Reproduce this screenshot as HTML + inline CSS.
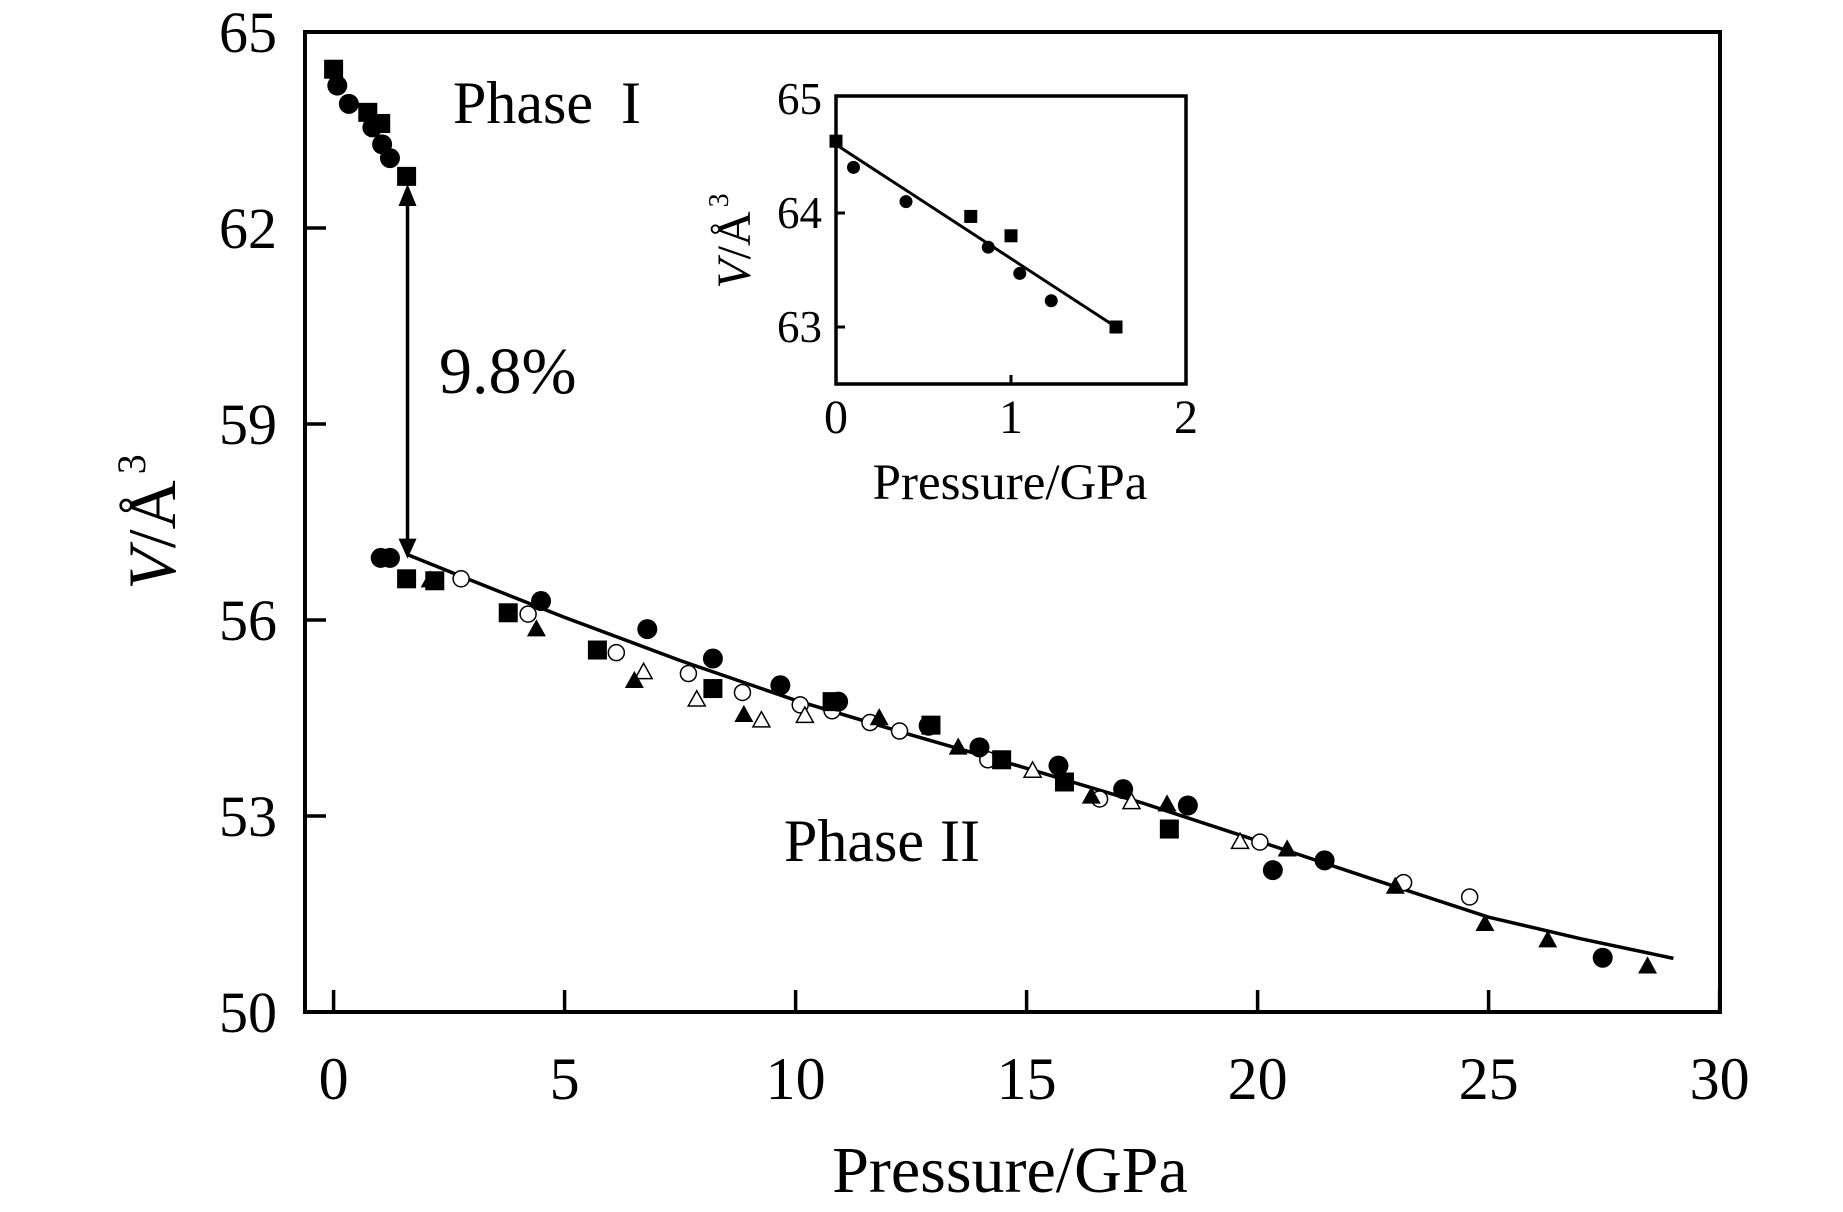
<!DOCTYPE html>
<html><head><meta charset="utf-8"><style>
html,body{margin:0;padding:0;background:#fff;}
svg{display:block;font-family:"Liberation Serif","Noto Serif CJK SC",serif;}
</style></head><body>
<svg id="chart" width="1843" height="1212" viewBox="0 0 1843 1212" xmlns="http://www.w3.org/2000/svg"></svg>
<script>
// ---- main chart data ----
const xTicks = [0, 5, 10, 15, 20, 25, 30];
const yTicks = [50, 53, 56, 59, 62, 65];
const phase1SquareP = [0, 0.74, 1.02, 1.58];
const phase1SquareV = [64.43, 63.77, 63.6, 62.79];
const phase1CircleP = [0.08, 0.33, 0.84, 1.05, 1.22];
const phase1CircleV = [64.18, 63.9, 63.54, 63.28, 63.07];
const fCircleP = [1.02, 1.22, 4.49, 6.79, 8.21, 9.67, 10.92, 12.88, 13.98, 15.69, 17.09, 18.49, 20.33, 21.45, 27.47];
const fCircleV = [56.95, 56.95, 56.29, 55.86, 55.41, 55.0, 54.75, 54.38, 54.05, 53.77, 53.41, 53.16, 52.17, 52.32, 50.83];
const fSquareP = [1.58, 2.19, 3.78, 5.71, 8.21, 10.79, 12.93, 14.46, 15.82, 18.09];
const fSquareV = [56.63, 56.6, 56.11, 55.54, 54.95, 54.75, 54.39, 53.86, 53.52, 52.8];
const fTriP = [2.09, 4.39, 6.51, 8.88, 11.81, 13.52, 16.4, 18.04, 20.64, 22.98, 24.92, 26.28, 28.44];
const fTriV = [56.63, 55.88, 55.09, 54.57, 54.52, 54.07, 53.32, 53.2, 52.51, 51.94, 51.37, 51.12, 50.72];
const oCircleP = [2.76, 4.21, 6.12, 7.68, 8.85, 10.1, 10.79, 11.61, 12.25, 14.16, 16.58, 20.05, 23.16, 24.59];
const oCircleV = [56.63, 56.09, 55.5, 55.18, 54.89, 54.7, 54.61, 54.43, 54.3, 53.86, 53.26, 52.6, 51.98, 51.76];
const oTriP = [6.71, 7.86, 9.26, 10.2, 15.13, 17.27, 19.62];
const oTriV = [55.22, 54.8, 54.48, 54.55, 53.71, 53.23, 52.62];
const fitP = [1.6, 3, 5, 7.5, 10, 12.5, 15, 17.5, 20, 22.5, 25, 27, 29];
const fitV = [57.0, 56.6, 56.04, 55.38, 54.77, 54.24, 53.73, 53.2, 52.62, 52.03, 51.45, 51.12, 50.82];
const arrowP = [1.6, 1.6];
const arrowV = [62.55, 57.0];
// ---- inset data ----
const insetXTicks = [0, 1, 2];
const insetYTicks = [63, 64, 65];
const insetCircleP = [0.1, 0.4, 0.87, 1.05, 1.23];
const insetCircleV = [64.4, 64.1, 63.7, 63.47, 63.23];
const insetSquareP = [0.0, 0.77, 1.0, 1.6];
const insetSquareV = [64.63, 63.97, 63.8, 63.0];
const insetFitP = [0, 1.6];
const insetFitV = [64.6, 63.0];

const NS = "http://www.w3.org/2000/svg";
const svg = document.getElementById('chart');
function mk(tag, attrs, parent) {
  const e = document.createElementNS(NS, tag);
  for (const k in attrs) e.setAttribute(k, attrs[k]);
  (parent || svg).appendChild(e);
  return e;
}
const X = p => 333.6 + p * 46.2;
const Y = v => 32 + (65 - v) * 65.33;
const IX = p => 836 + p * 175;
const IY = v => 99 + (65 - v) * 114;

let el;
el = mk('rect', {x: 305, y: 32, width: 1415, height: 980, fill: 'none', stroke: '#000', 'stroke-width': 4});



xTicks.forEach(t => {
  el = mk('line', {x1: X(t), x2: X(t), y1: 1012, y2: 990, stroke: '#000', 'stroke-width': 3.5});
  
  
  el = mk('text', {x: X(t), y: 1099, 'font-size': 60, 'text-anchor': 'middle'});
  el.textContent = t;
  
  
});
yTicks.forEach(t => {
  el = mk('line', {x1: 305, x2: 326, y1: Y(t), y2: Y(t), stroke: '#000', 'stroke-width': 3.5});
  
  
  el = mk('text', {x: 277, y: Y(t) + 20, 'font-size': 58, 'text-anchor': 'end'});
  el.textContent = t;
  
  
});
el = mk('text', {x: 1010, y: 1192, 'font-size': 66, 'text-anchor': 'middle'});
el.textContent = 'Pressure/GPa';


el = mk('text', {x: 0, y: 0, 'font-size': 68, 'text-anchor': 'middle', transform: 'translate(175,522) rotate(-90)'});
el.innerHTML = '<tspan font-style="italic">V</tspan>/Å<tspan font-size="40" dy="-30" dx="6">3</tspan>';



el = mk('polyline', {points: fitP.map((p, i) => X(p) + ',' + Y(fitV[i])).join(' '), fill: 'none', stroke: '#000', 'stroke-width': 3.5, 'stroke-linejoin': 'round'});



el = mk('line', {x1: X(arrowP[0]), x2: X(arrowP[1]), y1: Y(arrowV[0]), y2: Y(arrowV[1]), stroke: '#000', 'stroke-width': 3.5});


{
  const ax = X(arrowP[0]), ay1 = Y(arrowV[0]), ay2 = Y(arrowV[1]);
  el = mk('polygon', {points: `${ax},${ay1 - 8} ${ax - 9},${ay1 + 14} ${ax + 9},${ay1 + 14}`, fill: '#000'});
  
  
  el = mk('polygon', {points: `${ax},${ay2 + 4} ${ax - 9},${ay2 - 16} ${ax + 9},${ay2 - 16}`, fill: '#000'});
  
  
}

function square(cx, cy, s, name) {
  const e = mk('rect', {x: cx - s / 2, y: cy - s / 2, width: s, height: s, fill: '#000'});
  
  
}
function circle(cx, cy, r, filled, name) {
  const e = mk('circle', {cx: cx, cy: cy, r: r, fill: filled ? '#000' : '#fff', stroke: '#000', 'stroke-width': filled ? 0 : 1.5});
  
  
}
function tri(cx, cy, s, filled, name) {
  const h = s * 0.9;
  const e = mk('polygon', {points: `${cx},${cy - h / 2} ${cx - s / 2},${cy + h / 2} ${cx + s / 2},${cy + h / 2}`, fill: filled ? '#000' : '#fff', stroke: '#000', 'stroke-width': filled ? 0 : 1.5});
  
  
}

phase1SquareP.forEach((p, i) => square(X(p), Y(phase1SquareV[i]), 19, 'phase-1-square'));
phase1CircleP.forEach((p, i) => circle(X(p), Y(phase1CircleV[i]), 10, true, 'phase-1-circle'));
oCircleP.forEach((p, i) => circle(X(p), Y(oCircleV[i]), 8, false, 'open-circle-point'));
oTriP.forEach((p, i) => tri(X(p), Y(oTriV[i]), 17, false, 'open-triangle-point'));
fSquareP.forEach((p, i) => square(X(p), Y(fSquareV[i]), 19, 'filled-square-point'));
fCircleP.forEach((p, i) => circle(X(p), Y(fCircleV[i]), 10, true, 'filled-circle-point'));
fTriP.forEach((p, i) => tri(X(p), Y(fTriV[i]), 19, true, 'filled-triangle-point'));

el = mk('text', {x: 453, y: 123, 'font-size': 60});
el.innerHTML = 'Phase<tspan dx="28">I</tspan>';


el = mk('text', {x: 439, y: 393, 'font-size': 66});
el.textContent = '9.8%';


el = mk('text', {x: 784, y: 861, 'font-size': 60});
el.innerHTML = 'Phase<tspan dx="16">II</tspan>';



// inset
el = mk('rect', {x: 836, y: 96, width: 350, height: 288, fill: '#fff', stroke: '#000', 'stroke-width': 3.5});


insetXTicks.forEach(t => {
  if (t > 0 && t < 2) {
    el = mk('line', {x1: IX(t), x2: IX(t), y1: 384, y2: 375, stroke: '#000', 'stroke-width': 3});
    
    
  }
  el = mk('text', {x: IX(t), y: 433, 'font-size': 48, 'text-anchor': 'middle'});
  el.textContent = t;
  
  
});
insetYTicks.forEach(t => {
  if (t < 65) {
    el = mk('line', {x1: 836, x2: 845, y1: IY(t), y2: IY(t), stroke: '#000', 'stroke-width': 3});
    
    
  }
  el = mk('text', {x: 822, y: IY(t) + 15, 'font-size': 45, 'text-anchor': 'end'});
  el.textContent = t;
  
  
});
el = mk('text', {x: 1010, y: 499, 'font-size': 51, 'text-anchor': 'middle'});
el.textContent = 'Pressure/GPa';


el = mk('text', {x: 0, y: 0, 'font-size': 48, 'text-anchor': 'middle', transform: 'translate(750,241) rotate(-90)'});
el.innerHTML = '<tspan font-style="italic">V</tspan>/Å<tspan font-size="28" dy="-22" dx="4">3</tspan>';


el = mk('line', {x1: IX(insetFitP[0]), x2: IX(insetFitP[1]), y1: IY(insetFitV[0]), y2: IY(insetFitV[1]), stroke: '#000', 'stroke-width': 3});


insetCircleP.forEach((p, i) => circle(IX(p), IY(insetCircleV[i]), 6.5, true, 'inset-circle-point'));
insetSquareP.forEach((p, i) => square(IX(p), IY(insetSquareV[i]), 13, 'inset-square-point'));
</script>
</body></html>
